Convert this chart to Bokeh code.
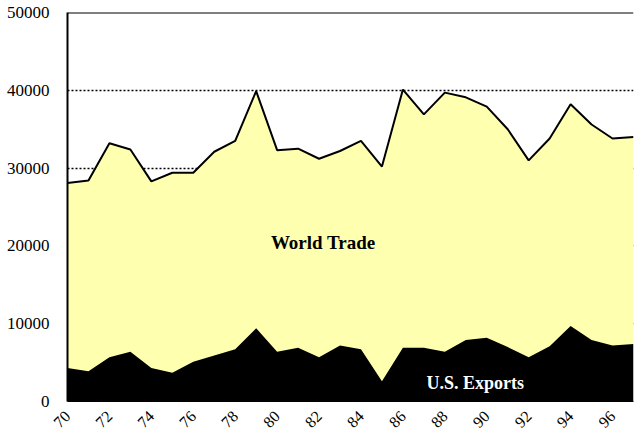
import math
from bokeh.plotting import figure
from bokeh.models import Range1d, FixedTicker, Label, Span
from bokeh.embed import file_html
from bokeh.resources import INLINE

years = list(range(70, 98))
world_trade = [28100, 28400, 33200, 32400, 28300, 29400, 29400, 32100, 33500, 39900,
               32300, 32500, 31200, 32200, 33500, 30200, 40100, 36900, 39700, 39100,
               37900, 35000, 31000, 33800, 38200, 35600, 33800, 34000]
us_exports = [4300, 3900, 5700, 6400, 4300, 3700, 5100, 5900, 6700, 9400,
              6400, 6900, 5700, 7200, 6700, 2600, 6900, 6900, 6400, 7900,
              8200, 7000, 5700, 7100, 9700, 7900, 7200, 7400]
x_ticks = list(range(70, 97, 2))
y_ticks = [0, 10000, 20000, 30000, 40000, 50000]

FONT = "Liberation Serif"

p = figure(width=634, height=435, output_backend="svg", toolbar_location=None,
           x_range=Range1d(70, 97), y_range=Range1d(0, 50000),
           min_border_left=67, min_border_right=1, min_border_top=12, min_border_bottom=33)
p.outline_line_color = None
p.background_fill_color = "white"
p.border_fill_color = "white"

p.varea(x=years, y1=0, y2=world_trade, fill_color="#FFFFB0")
p.line(x=years, y=world_trade, line_color="black", line_width=2)
p.varea(x=years, y1=0, y2=us_exports, fill_color="black")

p.add_layout(Span(location=50000, dimension="width", line_color="black", line_width=2))

p.xgrid.visible = False
p.ygrid.ticker = FixedTicker(ticks=y_ticks)
p.ygrid.grid_line_color = "black"
p.ygrid.grid_line_dash = "2 2"
p.ygrid.grid_line_width = 1.5

p.yaxis.ticker = FixedTicker(ticks=y_ticks)
p.yaxis.major_tick_line_color = None
p.yaxis.minor_tick_line_color = None
p.yaxis.axis_line_width = 2
p.yaxis.axis_line_color = "black"
p.yaxis.major_label_text_font = FONT
p.yaxis.major_label_text_font_size = "17px"
p.yaxis.major_label_text_color = "black"
p.yaxis.major_label_standoff = 12

p.xaxis.ticker = FixedTicker(ticks=x_ticks)
p.xaxis.major_tick_line_color = None
p.xaxis.minor_tick_line_color = None
p.xaxis.axis_line_color = "black"
p.xaxis.major_label_text_font = FONT
p.xaxis.major_label_text_font_size = "16px"
p.xaxis.major_label_text_color = "black"
p.xaxis.major_label_orientation = math.pi / 4
p.xaxis.major_label_standoff = 6

p.add_layout(Label(x=82.2, y=20400, text="World Trade", text_font=FONT,
                   text_font_size="19px", text_font_style="bold",
                   text_align="center", text_baseline="middle", text_color="black"))
p.add_layout(Label(x=89.45, y=2440, text="U.S. Exports", text_font=FONT,
                   text_font_size="18px", text_font_style="bold",
                   text_align="center", text_baseline="middle", text_color="white"))

open("out.html", "w").write(file_html(p, INLINE))
